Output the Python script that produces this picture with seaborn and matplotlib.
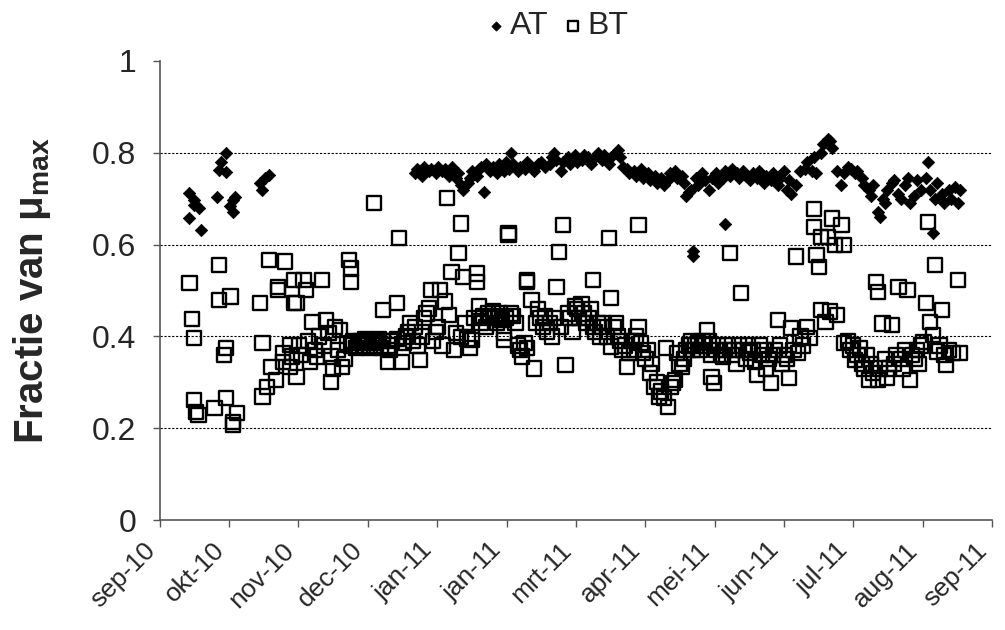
import numpy as np
import pandas as pd
import matplotlib
matplotlib.use("Agg")
import matplotlib.pyplot as plt
import seaborn as sns

# Days since 1 Sep 2010 and fraction of mu_max for the two temperature series
at_day = [13, 13, 15, 15, 17, 18, 25, 26, 27, 29, 29, 31, 32, 32, 33, 44, 45, 46, 48,
          112, 113, 115, 116, 118, 119, 121, 122, 124, 125, 127, 128, 130, 131, 132, 133,
          135, 136, 137, 139, 140, 141, 142, 143, 145, 146, 148, 149, 151, 152, 153, 154,
          155, 157, 158, 160, 161, 163, 164, 166, 167, 169, 171, 172, 173, 174, 176, 177,
          179, 180, 182, 183, 185, 186, 188, 189, 191, 192, 194, 195, 197, 198, 200, 201,
          202, 203, 205, 206, 208, 209, 211, 212, 214, 215, 217, 218, 220, 221, 223, 224,
          226, 227, 229, 230, 231, 232, 233, 234, 234, 235, 236, 238, 239, 241, 242, 244,
          245, 247, 248, 248, 250, 251, 253, 254, 256, 257, 259, 260, 262, 263, 265, 266,
          268, 269, 271, 272, 274, 275, 276, 277, 279, 281, 283, 284, 286, 287, 288, 290,
          291, 293, 294, 295, 297, 299, 300, 302, 303, 305, 306, 308, 309, 311, 312, 313,
          315, 316, 317, 318, 319, 321, 322, 324, 325, 327, 328, 329, 331, 332, 334, 336,
          337, 338, 339, 340, 341, 343, 344, 346, 347, 349, 350, 351]
at_val = [0.712, 0.657, 0.697, 0.686, 0.680, 0.632, 0.703, 0.763, 0.781, 0.799, 0.759,
          0.683, 0.697, 0.672, 0.704, 0.734, 0.719, 0.744, 0.752,
          0.755, 0.765, 0.750, 0.770, 0.760, 0.765, 0.755, 0.770, 0.760, 0.765, 0.750,
          0.770, 0.745, 0.755, 0.730, 0.720, 0.735, 0.745, 0.760, 0.750, 0.765, 0.770,
          0.715, 0.775, 0.760, 0.770, 0.755, 0.775, 0.760, 0.780, 0.765, 0.800, 0.775,
          0.760, 0.770, 0.765, 0.780, 0.770, 0.760, 0.775, 0.780, 0.770, 0.775, 0.790,
          0.800, 0.785, 0.760, 0.780, 0.790, 0.775, 0.795, 0.780, 0.785, 0.795, 0.790,
          0.775, 0.790, 0.800, 0.785, 0.795, 0.775, 0.790, 0.800, 0.805, 0.790, 0.770,
          0.765, 0.755, 0.760, 0.750, 0.765, 0.745, 0.755, 0.740, 0.750, 0.735, 0.745,
          0.730, 0.740, 0.755, 0.760, 0.745, 0.750, 0.735, 0.705, 0.715, 0.720, 0.585,
          0.575, 0.745, 0.730, 0.755, 0.740, 0.720, 0.745, 0.755, 0.735, 0.745, 0.760,
          0.645, 0.750, 0.765, 0.755, 0.745, 0.760, 0.750, 0.740, 0.755, 0.745, 0.760,
          0.735, 0.750, 0.740, 0.755, 0.730, 0.745, 0.760, 0.720, 0.740, 0.710, 0.730,
          0.760, 0.765, 0.780, 0.760, 0.790, 0.755, 0.800, 0.820, 0.830, 0.825, 0.810,
          0.760, 0.730, 0.755, 0.770, 0.765, 0.755, 0.760, 0.745, 0.730, 0.720, 0.705,
          0.730, 0.670, 0.660, 0.700, 0.690, 0.720, 0.735, 0.740, 0.710, 0.700, 0.730,
          0.745, 0.690, 0.705, 0.740, 0.720, 0.745, 0.780, 0.720, 0.625, 0.700, 0.735,
          0.710, 0.690, 0.720, 0.700, 0.725, 0.690, 0.720]

bt_day = [13, 14, 15, 15, 16, 17, 24, 26, 26, 28, 29, 29, 31, 32, 32, 34,
          44, 45, 45, 47, 48, 49, 51, 52, 52, 54, 54, 55, 57, 57, 58, 59, 59,
          60, 60, 61, 62, 63, 64, 65, 66, 67, 68, 69, 70, 71, 72, 73, 74, 75, 75,
          76, 77, 78, 79, 80, 81, 82,
          83, 84, 84, 84, 85, 86, 87, 88, 89, 90, 91, 92, 93, 94, 94, 95, 96, 97,
          98, 98, 100, 100, 101, 102, 104, 104, 105, 106, 107, 108, 109, 110, 111,
          112, 113, 114, 115, 116, 117, 118, 119, 120, 121, 122,
          123, 124, 125, 126, 127, 128, 129, 130, 131, 132, 132, 133, 134, 135, 136,
          137, 138, 139, 139, 140, 141, 142, 143, 144, 145, 146, 147, 148, 149, 150,
          151, 151, 152, 153, 153, 154, 155, 156, 157, 158, 159, 160, 161, 161, 161,
          163, 164, 165, 166, 167, 168, 169, 170, 171, 172, 173, 174, 175, 176, 177,
          178, 179, 180, 181, 182, 183, 184, 185, 186, 187, 188, 189, 190, 190, 191,
          192, 193, 194, 195, 196, 197, 198, 198, 199, 200, 201, 202, 203, 204, 205,
          206, 207, 208, 209, 210, 210, 211, 212, 213, 214, 215, 216, 217, 218, 219,
          220, 221, 222, 223, 224, 225, 226, 227, 228, 229, 230, 231, 232, 233, 234,
          235, 236, 237, 238, 239, 240, 241, 242, 242, 243, 244,
          245, 246, 247, 248, 249, 250, 251, 252, 253, 254, 255, 256, 257, 258, 259,
          260, 261, 262, 263, 264, 265, 266, 267, 268, 269, 270, 271, 272, 273, 274,
          275, 276, 277, 278, 279, 280, 281, 282, 284, 285, 287, 287, 288, 289, 290,
          290, 292, 293, 294, 295, 296, 297, 299, 300, 300, 302, 303, 304, 305, 306,
          307, 308, 309, 310, 311, 312, 313, 314, 315, 315, 316, 317, 318, 319, 320,
          321, 322, 323, 324, 325, 326, 327, 328, 329, 330, 331, 332, 333, 334, 335,
          336, 337, 338, 339, 340, 341, 342, 343, 344, 345, 346, 348, 350, 351]
bt_val = [0.517, 0.438, 0.396, 0.261, 0.236, 0.229, 0.244, 0.556, 0.479, 0.360, 0.374,
          0.266, 0.487, 0.207, 0.214, 0.233,
          0.472, 0.386, 0.269, 0.290, 0.566, 0.334, 0.305, 0.508, 0.501, 0.364, 0.345,
          0.563, 0.381, 0.334, 0.356, 0.472, 0.523,
          0.312, 0.473, 0.380, 0.360, 0.523, 0.501, 0.390, 0.345, 0.432, 0.370, 0.356,
          0.400, 0.523, 0.380, 0.436, 0.407, 0.356, 0.301, 0.330, 0.420, 0.370, 0.414,
          0.334, 0.350, 0.385,
          0.566, 0.548, 0.519, 0.380, 0.390, 0.375, 0.385, 0.390, 0.380, 0.395, 0.385,
          0.375, 0.390, 0.690, 0.380, 0.385, 0.395, 0.375, 0.457, 0.390, 0.345, 0.380,
          0.370, 0.390, 0.472, 0.395, 0.614, 0.345, 0.385, 0.400, 0.410, 0.430, 0.390,
          0.420, 0.380, 0.349, 0.400, 0.440, 0.450, 0.461, 0.501, 0.390, 0.410, 0.420,
          0.501, 0.380, 0.476, 0.701, 0.447, 0.541, 0.370, 0.407, 0.581, 0.646, 0.399,
          0.530, 0.430, 0.395, 0.374, 0.392, 0.440, 0.537, 0.519, 0.465, 0.430, 0.445,
          0.420, 0.450, 0.440, 0.455, 0.445, 0.430, 0.450, 0.435, 0.407, 0.392, 0.440,
          0.621, 0.625, 0.450, 0.445, 0.430, 0.380, 0.370, 0.356, 0.385, 0.523, 0.519,
          0.375, 0.479, 0.330, 0.430, 0.460, 0.440, 0.420, 0.445, 0.410, 0.430, 0.400,
          0.440, 0.508, 0.584, 0.420, 0.643, 0.338, 0.450, 0.440, 0.410, 0.465, 0.460,
          0.440, 0.470, 0.450, 0.430, 0.440, 0.460, 0.523, 0.420, 0.410, 0.430, 0.400,
          0.420, 0.430, 0.400, 0.614, 0.483, 0.378, 0.420, 0.430, 0.400, 0.390, 0.370,
          0.380, 0.334, 0.363, 0.390, 0.370, 0.400, 0.643, 0.421, 0.385, 0.363, 0.350,
          0.370, 0.320, 0.340, 0.290, 0.300, 0.269, 0.280, 0.265, 0.374, 0.247, 0.290,
          0.298, 0.305, 0.363, 0.340, 0.334, 0.350, 0.370, 0.380, 0.390, 0.370, 0.380,
          0.385, 0.370, 0.390, 0.380, 0.414, 0.390, 0.312, 0.360, 0.298, 0.370,
          0.380, 0.360, 0.355, 0.370, 0.380, 0.581, 0.360, 0.370, 0.340, 0.380, 0.494,
          0.370, 0.350, 0.380, 0.365, 0.370, 0.345, 0.316, 0.380, 0.360, 0.370, 0.330,
          0.350, 0.298, 0.360, 0.370, 0.436, 0.380, 0.340, 0.360, 0.350, 0.309, 0.418,
          0.370, 0.574, 0.363, 0.400, 0.380, 0.421, 0.396, 0.677, 0.639, 0.577, 0.552,
          0.457, 0.617, 0.432, 0.617, 0.454, 0.657, 0.599, 0.447, 0.643, 0.599, 0.385,
          0.390, 0.370, 0.380, 0.349, 0.360, 0.375, 0.340, 0.330, 0.360, 0.305, 0.340,
          0.320, 0.519, 0.497, 0.305, 0.330, 0.428, 0.350, 0.310, 0.330, 0.425, 0.340,
          0.360, 0.508, 0.350, 0.330, 0.370, 0.501, 0.305, 0.360, 0.350, 0.370, 0.340,
          0.380, 0.388, 0.472, 0.650, 0.432, 0.403, 0.556, 0.367, 0.380, 0.457, 0.360,
          0.338, 0.370, 0.363, 0.523, 0.363]

month_labels = ["sep-10", "okt-10", "nov-10", "dec-10", "jan-11", "jan-11", "mrt-11",
                "apr-11", "mei-11", "jun-11", "jul-11", "aug-11", "sep-11"]
y_ticks = [0, 0.2, 0.4, 0.6, 0.8, 1.0]
y_labels = ["0", "0.2", "0.4", "0.6", "0.8", "1"]

sns.set_theme(style="white")
plt.rcParams["font.family"] = ["Liberation Sans", "DejaVu Sans"]
plt.rcParams["mathtext.fontset"] = "custom"
plt.rcParams["mathtext.rm"] = "Liberation Sans"

at_df = pd.DataFrame({"dag": at_day, "fractie": at_val})
bt_df = pd.DataFrame({"dag": bt_day, "fractie": bt_val})

fig = plt.figure(figsize=(10.05, 6.30), dpi=100)
ax = fig.add_axes([0.159, 0.1746, 0.828, 0.7286])

sns.scatterplot(data=at_df, x="dag", y="fractie", ax=ax, marker="D", s=40,
                color="black", edgecolor="black", linewidth=0.5, label="AT", zorder=3)
sns.scatterplot(data=bt_df, x="dag", y="fractie", ax=ax, marker="s", s=105,
                facecolor="none", edgecolor="black", linewidth=1.7, label="BT", zorder=4)

ax.set_xlim(0, 365)
ax.set_ylim(0, 1)
ax.set_xticks([i * 365 / 12 for i in range(13)])
ax.set_xticklabels(month_labels, rotation=45, ha="right", va="top", fontsize=19)
ax.set_yticks(y_ticks)
ax.set_yticklabels(y_labels, fontsize=23)
ax.tick_params(axis="both", direction="out", length=5, width=1, color="#555555",
               bottom=True, left=True)
ax.tick_params(axis="y", pad=12)
ax.tick_params(axis="x", pad=8)
for y in [0.2, 0.4, 0.6, 0.8]:
    ax.axhline(y, color="black", linestyle=(0, (2, 1.5)), linewidth=0.8, zorder=1)
for side in ["top", "right"]:
    ax.spines[side].set_visible(False)
for side in ["left", "bottom"]:
    ax.spines[side].set_color("#555555")
    ax.spines[side].set_linewidth(1.2)

ax.set_xlabel("")
ax.set_ylabel(r"Fractie van μ$_{\mathregular{max}}$", fontsize=29, fontweight="bold",
              labelpad=28)

ax.get_legend().remove()
handles, labels = ax.get_legend_handles_labels()
fig.legend(handles, labels, loc="center", bbox_to_anchor=(0.553, 0.958), ncol=2,
           frameon=False, fontsize=23, handletextpad=0.05, columnspacing=0.35,
           handlelength=0.8, markerscale=0.75)

fig.savefig("out.png", dpi=100)
